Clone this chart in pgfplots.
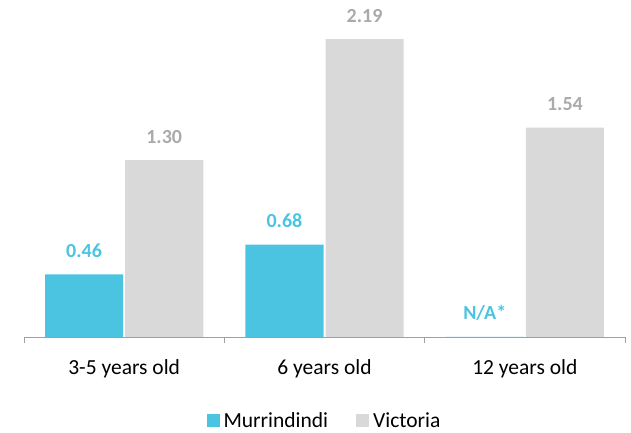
\documentclass[border=0pt]{standalone}
\usepackage{pgfplots}
\pgfplotsset{compat=1.18}
\usepackage{fontspec}
\setmainfont{Carlito}
\definecolor{murr}{RGB}{75,196,226}
\definecolor{vic}{RGB}{217,217,217}
\definecolor{vlab}{RGB}{170,170,170}
\definecolor{axgrey}{RGB}{160,160,160}
\begin{document}
\begin{tikzpicture}
\useasboundingbox (0,0) rectangle (631pt,433pt);
\begin{axis}[
  at={(24pt,96pt)}, anchor=south west,
  scale only axis, width=601pt, height=326.4pt,
  xmin=-0.5, xmax=2.5, ymin=0, ymax=2.4,
  axis x line*=bottom, axis y line=none,
  x axis line style={draw=axgrey, line width=0.8pt, -},
  xtick={0,1,2},
  xticklabels={3-5 years old, 6 years old, 12 years old},
  major tick length=0pt,
  extra x ticks={-0.5,0.5,1.5,2.5},
  extra x tick labels={},
  extra x tick style={major tick length=6pt, tick style={draw=axgrey, line width=0.8pt}, tick align=outside},
  xticklabel style={font=\fontsize{21.5}{25}\selectfont, text=black, yshift=-19pt},
  clip=false,
  ybar, bar width=0.39,
  nodes near coords,
  point meta=explicit symbolic,
  every node near coord/.append style={font=\fontsize{20}{24}\selectfont\bfseries, yshift=13pt},
  legend style={draw=none, at={(0.5,-0.258)}, anchor=center, legend columns=2,
    font=\fontsize{21.5}{25}\selectfont, column sep=2pt,
    /tikz/every even column/.append style={column sep=26pt}},
  legend image code/.code={\fill[#1] (0pt,-6pt) rectangle (13pt,7pt);},
]
\addplot[fill=murr, draw=none, bar shift=-0.2, every node near coord/.append style={text=murr}]
  coordinates {(0,0.46) [0.46] (1,0.68) [0.68] (2,0) [N/A*]};
\addlegendentry{Murrindindi}
\addplot[fill=vic, draw=none, bar shift=0.2, every node near coord/.append style={text=vlab}]
  coordinates {(0,1.30) [1.30] (1,2.19) [2.19] (2,1.54) [1.54]};
\addlegendentry{Victoria}
\end{axis}
\end{tikzpicture}
\end{document}
